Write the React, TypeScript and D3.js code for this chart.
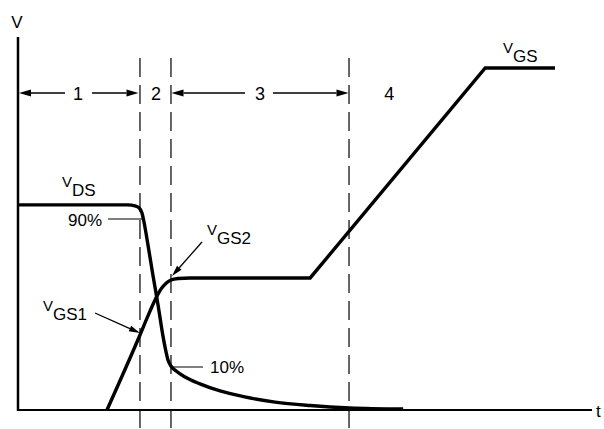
import React from "react";
import * as d3 from "d3";

// time axis runs 0..100, voltage axis 0..100 (arbitrary units)
// VGS: rounded rise into the Miller plateau, then a straight ramp to the final level
const vgsRiseT = [15.5, 21.25, 23.0, 24.04, 24.9, 25.8, 26.65, 27.9, 30.0, 50.9];
const vgsRiseV = [0, 20.1, 26.5, 30.0, 32.4, 34.0, 34.85, 35.25, 35.4, 35.4];
const vgsRampT = [50.9, 81.4, 93.55];
const vgsRampV = [35.4, 91.7, 91.7];

const vdsT = [0, 19.16, 20.38, 21.08, 21.6, 21.95, 22.65, 23.5, 24.4, 25.26, 25.8, 26.13, 26.65, 27.5, 29.1, 31.7, 35.2, 39.5, 44.8, 50.9, 57.8, 67.1];
const vdsV = [55.0, 55.0, 54.7, 54.2, 52.8, 50.4, 44.2, 36.2, 28.15, 19.8, 15.5, 13.4, 11.8, 10.5, 8.85, 7.0, 5.1, 3.5, 2.1, 1.2, 0.55, 0.25];

// phase boundaries (dashed lines) and labels
const phaseEdges = [0, 21.25, 26.65, 57.67];
const phaseLabels = ["1", "2", "3", "4"];
const phaseLabelT = [10.45, 24.05, 42.15, 64.7];

const W = 604;
const H = 429;

const App = () => {
  const x = d3.scaleLinear().domain([0, 100]).range([18, 592]);
  const y = d3.scaleLinear().domain([0, 100]).range([410, 37]);

  const smooth = d3
    .line<[number, number]>()
    .x((d) => x(d[0]))
    .y((d) => y(d[1]))
    .curve(d3.curveMonotoneX);
  const straight = d3
    .line<[number, number]>()
    .x((d) => x(d[0]))
    .y((d) => y(d[1]));

  const vgsRise = vgsRiseT.map((t, i) => [t, vgsRiseV[i]] as [number, number]);
  const vgsRamp = vgsRampT.map((t, i) => [t, vgsRampV[i]] as [number, number]);
  const vds = vdsT.map((t, i) => [t, vdsV[i]] as [number, number]);

  const font = "'Liberation Sans', Arial, Helvetica, sans-serif";
  const rowY = 93;

  const arrow = (x1: number, y1: number, x2: number, y2: number, len = 12, hw = 3.5) => {
    const a = Math.atan2(y2 - y1, x2 - x1);
    const bx = x2 - len * Math.cos(a);
    const by = y2 - len * Math.sin(a);
    const px = -Math.sin(a) * hw;
    const py = Math.cos(a) * hw;
    return (
      <g>
        <line x1={x1} y1={y1} x2={bx} y2={by} stroke="#000" strokeWidth={1.3} />
        <path d={`M${x2},${y2}L${bx + px},${by + py}L${bx - px},${by - py}Z`} fill="#000" />
      </g>
    );
  };

  const sub = (main: string, s: string, px: number, py: number) => (
    <text x={px} y={py} fontFamily={font} fill="#000">
      <tspan fontSize={15}>{main}</tspan>
      <tspan fontSize={17} dy={9}>{s}</tspan>
    </text>
  );

  const curveStyle = {
    fill: "none",
    stroke: "#000",
    strokeWidth: 3.4,
    strokeLinejoin: "miter" as const,
  };

  return (
    <svg
      width={W}
      height={H}
      style={{ position: "absolute", left: 0, top: 0, background: "#fff" }}
    >
      {/* dashed phase lines */}
      {phaseEdges.slice(1).map((t) => (
        <line
          key={t}
          x1={x(t)}
          x2={x(t)}
          y1={58}
          y2={H}
          stroke="#000"
          strokeWidth={1.2}
          strokeDasharray="19,8"
        />
      ))}

      {/* axes */}
      <line x1={x(0)} x2={x(0)} y1={y(100)} y2={y(0) + 1} stroke="#000" strokeWidth={2.5} />
      <line x1={x(0)} x2={x(100)} y1={y(0)} y2={y(0)} stroke="#000" strokeWidth={2} />
      <text x={17} y={28} fontSize={17} fontFamily={font} textAnchor="middle">V</text>
      <text x={596} y={417} fontSize={17} fontFamily={font}>t</text>

      {/* phase arrows */}
      {arrow(65, rowY, x(phaseEdges[0]) + 1, rowY)}
      {arrow(92, rowY, x(phaseEdges[1]) - 1.5, rowY)}
      {arrow(245, rowY, x(phaseEdges[2]) + 0.5, rowY)}
      {arrow(273, rowY, x(phaseEdges[3]) - 0.5, rowY)}
      {phaseLabels.map((l, i) => (
        <text
          key={l}
          x={x(phaseLabelT[i])}
          y={rowY + 6.5}
          fontSize={18}
          fontFamily={font}
          textAnchor="middle"
        >
          {l}
        </text>
      ))}

      {/* curves */}
      <path d={smooth(vds) || ""} {...curveStyle} />
      <path d={(smooth(vgsRise) || "") + (straight(vgsRamp) || "").replace(/^M/, "L")} {...curveStyle} />

      {/* 90% / 10% leaders */}
      <line x1={108} x2={143} y1={219} y2={219} stroke="#000" strokeWidth={1.2} />
      <text x={68} y={226} fontSize={17} fontFamily={font}>90%</text>
      <line x1={170} x2={203} y1={367} y2={367} stroke="#000" strokeWidth={1.2} />
      <text x={210} y={373} fontSize={17} fontFamily={font}>10%</text>

      {/* labels */}
      {sub("V", "DS", 62, 187)}
      {sub("V", "GS1", 43, 311)}
      {sub("V", "GS2", 207, 235)}
      {sub("V", "GS", 503, 53)}
      {arrow(95, 313, 140, 333, 11, 3)}
      {arrow(202, 242, 172, 276, 11, 3)}
    </svg>
  );
};

export default App;
